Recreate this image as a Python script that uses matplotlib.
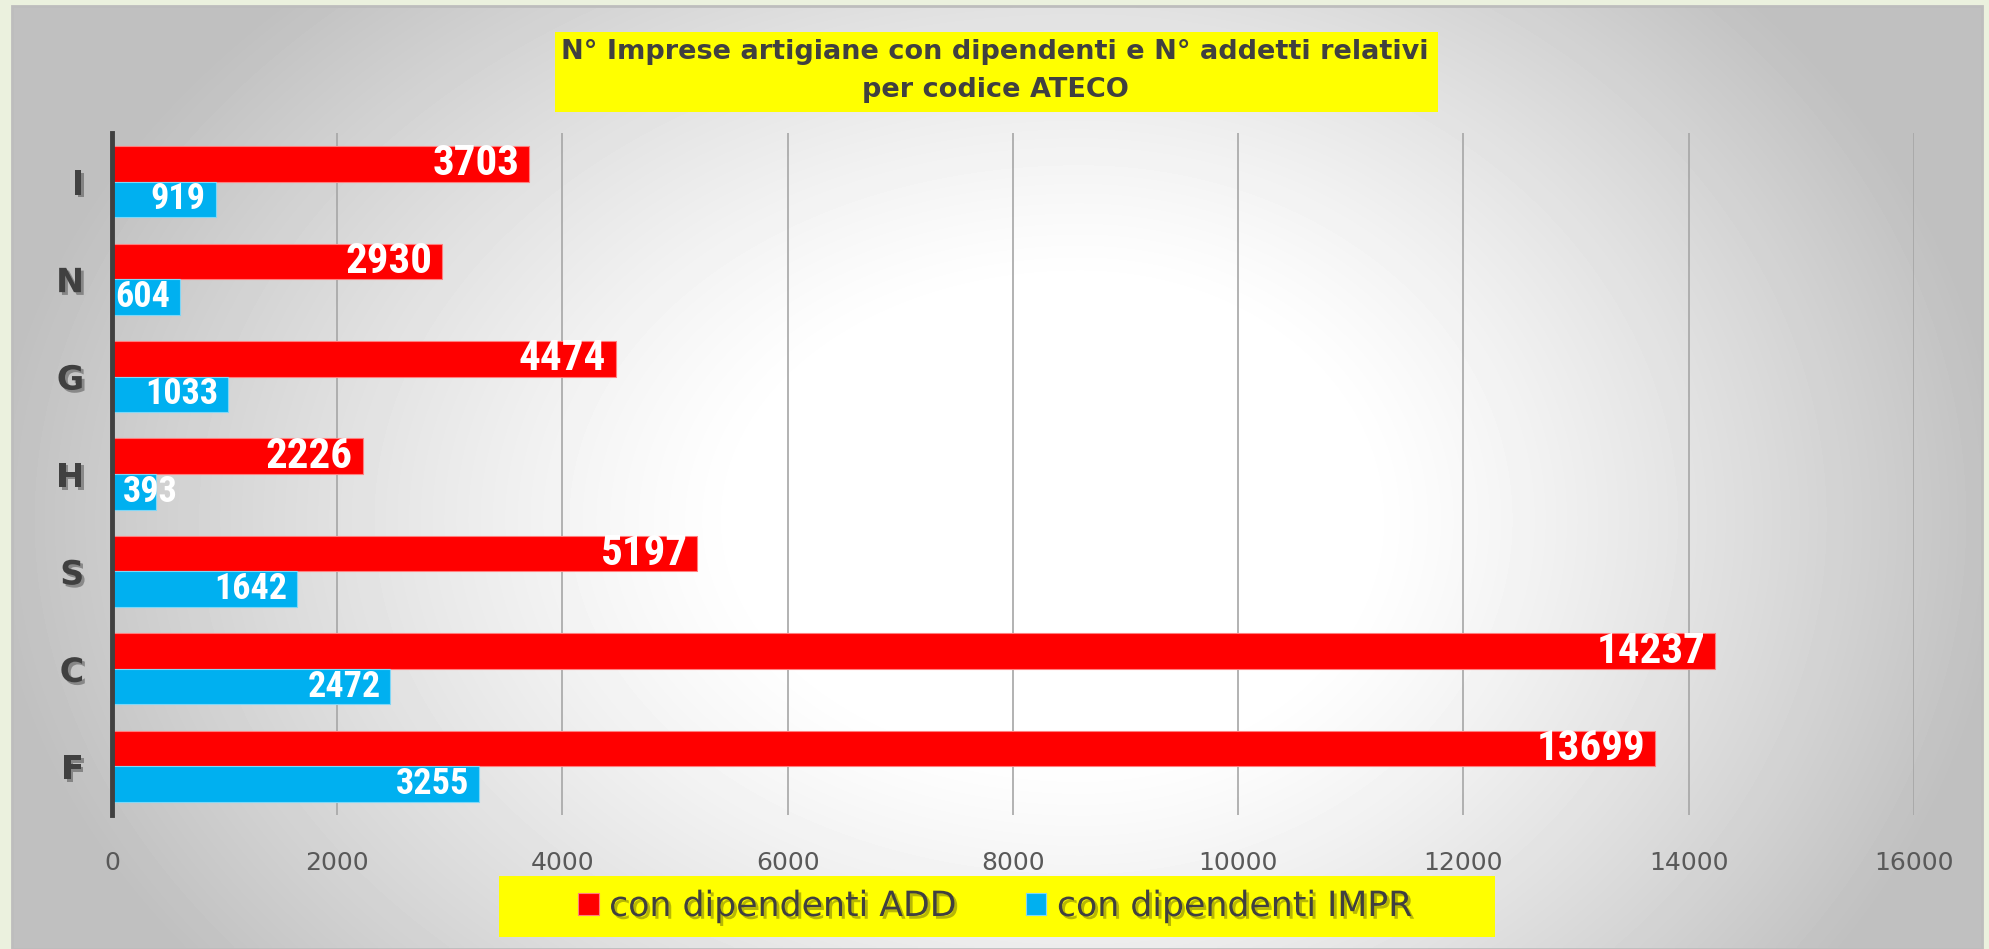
import numpy as np
import matplotlib.pyplot as plt
import matplotlib.patheffects as pe
from matplotlib.patches import Rectangle

# data (top to bottom as in the chart)
categories = ["I", "N", "G", "H", "S", "C", "F"]
add_values = [3703, 2930, 4474, 2226, 5197, 14237, 13699]
impr_values = [919, 604, 1033, 393, 1642, 2472, 3255]
series_labels = ["con dipendenti ADD", "con dipendenti IMPR"]
title_lines = ["N° Imprese artigiane con dipendenti e N° addetti relativi", "per codice ATECO"]
x_ticks = [0, 2000, 4000, 6000, 8000, 10000, 12000, 14000, 16000]

RED = "#ff0000"
BLUE = "#00b0f0"
DARK = "#404040"
narrow = ["Roboto Condensed", "DejaVu Sans"]

W, H = 1990, 949
fig = plt.figure(figsize=(W / 100, H / 100), dpi=100)
fig.patch.set_facecolor("#ebf1de")

# background panel with a soft, wide white spot in the middle
bg = fig.add_axes([0, 0, 1, 1], zorder=0)
bg.set_xlim(0, W)
bg.set_ylim(H, 0)
bg.axis("off")
px0, px1, py0, py1 = 12, 1982, 6, 949
xx, yy = np.meshgrid(np.linspace(px0, px1, 400), np.linspace(py0, py1, 200))
cx, cy = 1080, 520
rx = np.where(xx < cx, 1120, 950)
d = np.sqrt(((xx - cx) / rx) ** 2 + ((yy - cy) / 780) ** 2)
t = np.clip((d - 0.3) / 0.68, 0, 1)
shade = 1 - 0.25 * t ** 1.2
bg.imshow(shade, cmap="gray", vmin=0, vmax=1, extent=(px0, px1, py1, py0),
          aspect="auto", interpolation="bilinear")
bg.add_patch(Rectangle((px0, py0), px1 - px0, py1 - py0, fill=False,
                       edgecolor="#bdbdbd", lw=2))

# title box
bg.add_patch(Rectangle((555, 32), 883, 80, facecolor="#ffff00", edgecolor="none"))
fig.text(0.5, 1 - 52 / H, title_lines[0], ha="center", va="center",
         fontsize=19.5, fontweight="bold", color=DARK)
fig.text(0.5, 1 - 90 / H, title_lines[1], ha="center", va="center",
         fontsize=19.5, fontweight="bold", color=DARK)

# legend box
bg.add_patch(Rectangle((499, 876), 996, 61, facecolor="#ffff00", edgecolor="none"))

ax = fig.add_axes([112 / W, 1 - 815 / H, (1914 - 112) / W, (815 - 133) / H], zorder=1)
ax.set_facecolor("none")

pos = np.arange(len(categories))
h = 0.365
bars_add = ax.barh(pos - h / 2, add_values, height=h, color=RED,
                   edgecolor="#ff7f7f", linewidth=0.8, label=series_labels[0], zorder=3)
bars_impr = ax.barh(pos + h / 2, impr_values, height=h, color=BLUE,
                    edgecolor="#7fd7f7", linewidth=0.8, label=series_labels[1], zorder=3)

for p, v in zip(pos, add_values):
    ax.annotate(str(v), (v, p - h / 2), xytext=(-7, 0), textcoords="offset points",
                ha="right", va="center", color="white", fontsize=31,
                fontweight="bold", family=narrow, zorder=4)
for p, v in zip(pos, impr_values):
    if v < 500:
        ax.annotate(str(v), (0, p + h / 2), xytext=(8, 0), textcoords="offset points",
                    ha="left", va="center", color="white", fontsize=26,
                    fontweight="bold", family=narrow, zorder=4)
    else:
        ax.annotate(str(v), (v, p + h / 2), xytext=(-7, 0), textcoords="offset points",
                    ha="right", va="center", color="white", fontsize=26,
                    fontweight="bold", family=narrow, zorder=4)

ax.set_xlim(0, 16000)
ax.set_ylim(len(categories) - 0.5, -0.5)
ax.set_xticks(x_ticks)
ax.set_xticklabels([str(t) for t in x_ticks], fontsize=18, color="#595959")
ax.set_yticks(pos)
ax.set_yticklabels(categories, fontsize=24, fontweight="bold", color=DARK)
for lbl in ax.get_yticklabels():
    lbl.set_path_effects([pe.SimplePatchShadow(offset=(2, -2), alpha=0.35), pe.Normal()])
ax.tick_params(axis="x", length=0, pad=26)
ax.tick_params(axis="y", length=0, pad=20)
ax.grid(axis="x", color="#a6a6a6", lw=1.2, zorder=1)
for s in ["top", "right", "bottom"]:
    ax.spines[s].set_visible(False)
ax.spines["left"].set_color(DARK)
ax.spines["left"].set_linewidth(3.5)
ax.spines["left"].set_zorder(5)

leg = fig.legend(handles=[bars_add, bars_impr], labels=series_labels, loc="center",
                 bbox_to_anchor=(0.5, 1 - 906 / H), ncol=2, frameon=False,
                 fontsize=25, handlelength=0.6, handleheight=0.6, handletextpad=0.3,
                 columnspacing=2.0)
for t in leg.get_texts():
    t.set_color(DARK)
    t.set_path_effects([pe.SimplePatchShadow(offset=(2, -2), alpha=0.3), pe.Normal()])

fig.savefig("out.png", dpi=100)
